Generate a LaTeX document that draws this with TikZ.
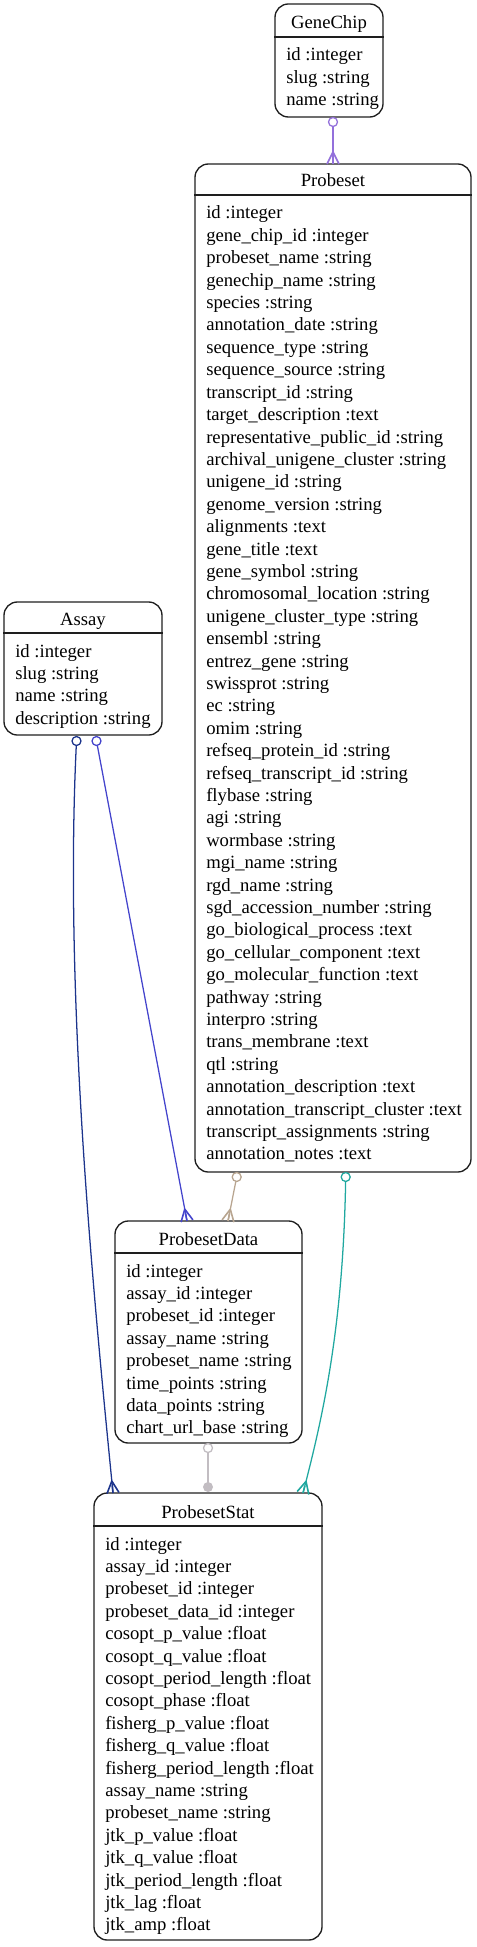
\documentclass[tikz,border=0pt]{standalone}
\usepackage{fontspec}
\setmainfont{Liberation Serif}
\usetikzlibrary{fit,decorations.markings}
\definecolor{cpurp}{RGB}{147,112,219}
\definecolor{cdark}{RGB}{28,52,140}
\definecolor{cblue}{RGB}{68,68,204}
\definecolor{ctan}{RGB}{184,165,144}
\definecolor{cteal}{RGB}{32,168,160}
\definecolor{cgrey}{RGB}{194,189,194}
\definecolor{cbox}{RGB}{30,30,30}
\newcommand\tblrows[4]{%
  \foreach \t [count=\i from 0] in {#3} \node[row] (#4\i) at (#1,{#2+22.4*\i}) {\t};}
\begin{document}
\begin{tikzpicture}[x=0.75pt,y=-0.75pt,
  tbl/.style={draw=cbox, line width=1pt, rounded corners=10pt, inner sep=0pt},
  tblline/.style={draw=cbox, line width=1pt},
  row/.style={anchor=base west, inner sep=0pt, font=\fontsize{14pt}{16.8pt}\selectfont},
  head/.style={anchor=base, inner sep=0pt, font=\fontsize{14pt}{16.8pt}\selectfont},
  rel/.style={draw=#1, line width=0.95pt},
  tailring/.style={draw=#1, line width=0.95pt, fill=white},
  crowfoot/.style={postaction={decorate}, decoration={markings,
     mark=at position 1 with {\draw[line width=1.2pt, draw=#1, line join=round] (0,-6) -- (-12,0) -- (0,6) (-12,0) -- (0,0);}}}
]
\useasboundingbox (0,0) rectangle (476,1947);

% ---------- tables ----------
\node[tbl, fit={(275,4) (383,117)}] (genechip) {};
\draw[tblline] (genechip.west |- 0,37) -- (genechip.east |- 0,37);
\node[head] (genechip-h) at (329,29) {GeneChip};
\tblrows{286}{61}{id :integer, slug :string, name :string}{gcr}

\node[tbl, fit={(195,164) (471,1172)}] (probeset) {};
\draw[tblline] (probeset.west |- 0,195) -- (probeset.east |- 0,195);
\node[head] (probeset-h) at (333,187) {Probeset};
\tblrows{206}{219}{id :integer, gene\_chip\_id :integer, probeset\_name :string, genechip\_name :string, species :string, annotation\_date :string, sequence\_type :string, sequence\_source :string, transcript\_id :string, target\_description :text, representative\_public\_id :string, archival\_unigene\_cluster :string, unigene\_id :string, genome\_version :string, alignments :text, gene\_title :text, gene\_symbol :string, chromosomal\_location :string, unigene\_cluster\_type :string, ensembl :string, entrez\_gene :string, swissprot :string, ec :string, omim :string, refseq\_protein\_id :string, refseq\_transcript\_id :string, flybase :string, agi :string, wormbase :string, mgi\_name :string, rgd\_name :string, sgd\_accession\_number :string, go\_biological\_process :text, go\_cellular\_component :text, go\_molecular\_function :text, pathway :string, interpro :string, trans\_membrane :text, qtl :string, annotation\_description :text, annotation\_transcript\_cluster :text, transcript\_assignments :string, annotation\_notes :text}{psr}

\node[tbl, fit={(4,602) (162,735)}] (assay) {};
\draw[tblline] (assay.west |- 0,633) -- (assay.east |- 0,633);
\node[head] (assay-h) at (83,625) {Assay};
\tblrows{15}{657}{id :integer, slug :string, name :string, description :string}{asr}

\node[tbl, fit={(115,1221) (302,1443)}] (pdata) {};
\draw[tblline] (pdata.west |- 0,1253) -- (pdata.east |- 0,1253);
\node[head] (pdata-h) at (208.5,1245) {ProbesetData};
\tblrows{126}{1277}{id :integer, assay\_id :integer, probeset\_id :integer, assay\_name :string, probeset\_name :string, time\_points :string, data\_points :string, chart\_url\_base :string}{pdr}

\node[tbl, fit={(94,1493) (322,1940)}] (pstat) {};
\draw[tblline] (pstat.west |- 0,1526) -- (pstat.east |- 0,1526);
\node[head] (pstat-h) at (208,1518) {ProbesetStat};
\tblrows{105}{1550}{id :integer, assay\_id :integer, probeset\_id :integer, probeset\_data\_id :integer, cosopt\_p\_value :float, cosopt\_q\_value :float, cosopt\_period\_length :float, cosopt\_phase :float, fisherg\_p\_value :float, fisherg\_q\_value :float, fisherg\_period\_length :float, assay\_name :string, probeset\_name :string, jtk\_p\_value :float, jtk\_q\_value :float, jtk\_period\_length :float, jtk\_lag :float, jtk\_amp :float}{pstr}

% ---------- connector end points ----------
\coordinate (gc-t) at (333,122);
\coordinate (ps-h) at (333,164);
\coordinate (as-t1) at (76.5,741);
\coordinate (pst-h1) at (113,1493);
\coordinate (as-t2) at (96.5,741);
\coordinate (pd-h1) at (187,1221);
\coordinate (ps-t1) at (236.7,1177);
\coordinate (pd-h2) at (228,1221);
\coordinate (ps-t2) at (345.7,1177);
\coordinate (pst-h2) at (303,1493);
\coordinate (pd-t) at (208,1448);
\coordinate (pst-h3) at (208,1487);

% ---------- connectors ----------
\draw[rel=cpurp, crowfoot=cpurp, shorten <=3.4pt] (gc-t) -- (ps-h);
\draw[tailring=cpurp] (gc-t) circle[radius=4.5];

\draw[rel=cdark, crowfoot=cdark, shorten <=3.4pt] (as-t1) .. controls (64,1000) and (94,1300) .. (pst-h1);
\draw[tailring=cdark] (as-t1) circle[radius=4.5];

\draw[rel=cblue, crowfoot=cblue, shorten <=3.4pt] (as-t2) -- (pd-h1);
\draw[tailring=cblue] (as-t2) circle[radius=4.5];

\draw[rel=ctan, crowfoot=ctan, shorten <=3.4pt] (ps-t1) -- (pd-h2);
\draw[tailring=ctan] (ps-t1) circle[radius=4.5];

\draw[rel=cteal, crowfoot=cteal, shorten <=3.4pt] (ps-t2) .. controls (343,1330) and (322,1420) .. (pst-h2);
\draw[tailring=cteal] (ps-t2) circle[radius=4.5];

\draw[rel=cgrey, shorten <=3.4pt] (pd-t) -- (pst-h3);
\draw[tailring=cgrey] (pd-t) circle[radius=4.5];
\fill[cgrey] (pst-h3) circle[radius=5];
\end{tikzpicture}
\end{document}
